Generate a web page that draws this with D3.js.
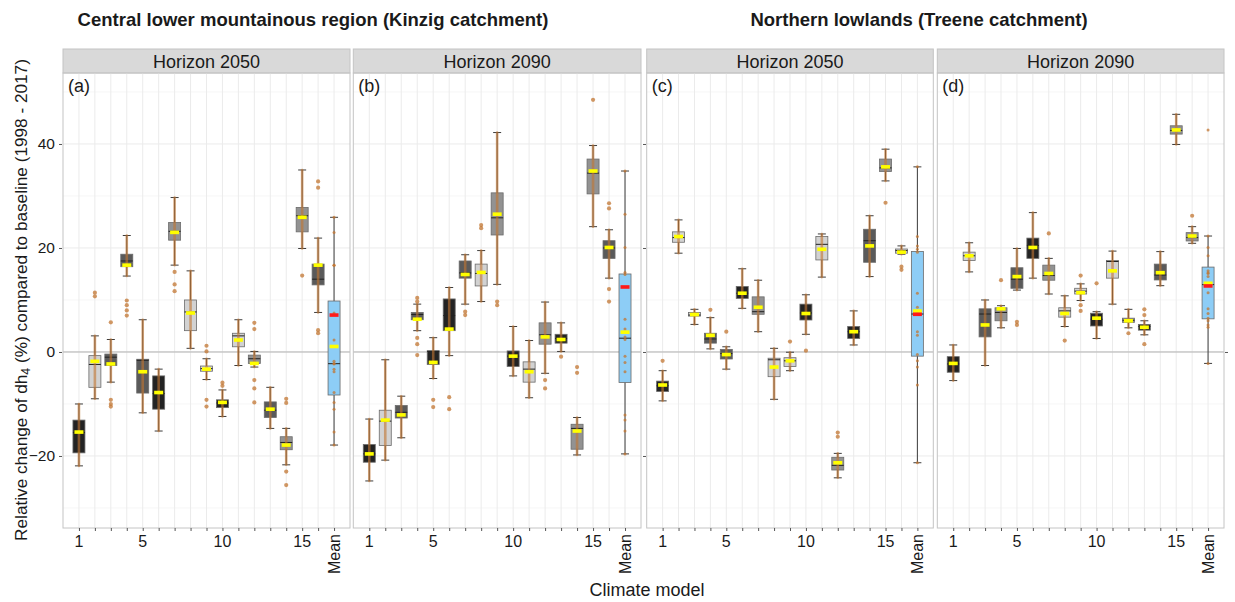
<!DOCTYPE html>
<html lang="en">
<head>
<meta charset="utf-8">
<title>Relative change of dh4 by climate model</title>
<script src="https://cdnjs.cloudflare.com/ajax/libs/d3/7.8.5/d3.min.js"></script>
<style>
  body { margin: 0; background: #fff; }
  svg text { font-family: "Liberation Sans", Arial, sans-serif; fill: #1a1a1a; }
</style>
</head>
<body>
<div id="chart"></div>
<script>
// categories
var models = ["1","2","3","4","5","6","7","8","9","10","11","12","13","14","15","16","Mean"];
var xLabels = ["1","5","10","15","Mean"];
var yTicks = [-20, 0, 20, 40];
var yMinor = [-30, -10, 10, 30, 50];

var regions = ["Central lower mountainous region (Kinzig catchment)", "Northern lowlands (Treene catchment)"];
var horizons = ["Horizon 2050", "Horizon 2090", "Horizon 2050", "Horizon 2090"];
var panelTags = ["(a)", "(b)", "(c)", "(d)"];

// per model box stats: [lower whisker, q1, median, q3, upper whisker, mean]
var statsA = [
  [-21.9, -19.4, -15.5, -13.1, -10.0, -15.4],
  [-9.0, -6.8, -2.4, -0.7, 3.1, -1.8],
  [-5.8, -2.6, -1.0, -0.4, 2.4, -2.3],
  [14.6, 16.4, 17.5, 18.8, 22.4, 16.7],
  [-11.7, -7.9, -1.6, -1.4, 6.2, -3.8],
  [-15.2, -11.0, -8.0, -4.6, -3.3, -7.8],
  [16.7, 21.5, 23.2, 24.9, 29.7, 23.0],
  [0.7, 4.1, 7.7, 10.0, 15.6, 7.5],
  [-5.3, -3.7, -3.2, -2.7, -1.3, -3.3],
  [-12.4, -10.7, -9.8, -9.2, -7.3, -9.7],
  [-2.6, 1.0, 3.1, 3.6, 6.2, 2.3],
  [-2.9, -2.2, -1.3, -0.6, 0.1, -2.2],
  [-14.7, -12.6, -11.2, -9.6, -6.8, -11.0],
  [-21.7, -18.8, -17.4, -16.3, -14.7, -17.9],
  [19.9, 23.1, 26.2, 27.8, 35.0, 25.9],
  [7.6, 12.9, 14.0, 16.9, 21.9, 16.7]
];
var outA = [[], [11.4, 10.7], [5.7, -9.2, -10.0, -10.5], [9.9, 9.0, 8.0, 7.0], [], [], [15.4, 13.0, 11.7], [],
  [1.2, 0.1, -9.2, -10.5], [-5.9, -6.5], [], [5.6, 4.4, -5.4, -7.0, -9.7], [], [-9.0, -9.8, -23.0, -25.6], [14.7], [32.8, 31.6, 4.2, 3.6]];
var fillA = "KLDDDKMLLKLMDMMD";
var redA = 7.1;

var statsB = [
  [-24.8, -21.2, -19.6, -17.8, -12.9, -19.6],
  [-20.8, -18.0, -13.3, -11.2, -1.5, -13.1],
  [-16.5, -12.7, -11.6, -10.3, -8.5, -12.1],
  [4.1, 6.2, 7.2, 7.6, 9.2, 6.3],
  [-5.1, -2.4, 0.1, 0.25, 2.75, -2.0],
  [-0.7, 4.1, 7.0, 10.2, 12.4, 4.4],
  [9.2, 14.2, 15.2, 17.5, 18.7, 14.9],
  [9.7, 12.7, 15.1, 16.9, 19.5, 15.3],
  [13.0, 22.5, 25.8, 30.6, 42.2, 26.5],
  [-4.6, -2.8, -0.8, 0.2, 4.9, -0.8],
  [-8.8, -5.8, -3.3, -1.9, 2.2, -3.8],
  [-4.1, 1.5, 3.3, 5.6, 9.6, 2.9],
  [0.1, 1.7, 2.6, 3.4, 5.6, 2.4],
  [-19.8, -18.7, -14.7, -13.9, -12.6, -15.2],
  [24.1, 30.4, 34.4, 37.1, 39.7, 34.8],
  [14.2, 18.0, 20.0, 21.4, 23.5, 20.1]
];
var outB = [[], [], [], [10.4, 9.7, 2.7, 1.5, -0.6], [-9.2, -10.6], [-8.7, -11.0], [7.75, 7.1], [24.4, 23.8],
  [9.7, 9.0], [], [], [-5.4, -7.0], [-0.9], [-2.9, -4.0], [48.5], [28.6, 27.6, 12.1, 9.7]];
var fillB = "KLDDKKDLMKLMKMMD";
var redB = 12.5;

var statsC = [
  [-9.4, -7.6, -6.5, -5.6, -3.6, -6.35],
  [19.0, 21.1, 22.0, 23.1, 25.4, 22.2],
  [5.3, 6.9, 7.1, 7.6, 8.2, 7.2],
  [0.6, 1.7, 2.5, 3.6, 6.6, 3.2],
  [-3.3, -1.35, -0.3, 0.5, 1.0, -0.5],
  [8.4, 10.3, 11.3, 12.6, 16.0, 11.3],
  [3.9, 7.25, 7.75, 10.6, 13.8, 8.6],
  [-9.1, -4.75, -1.5, -1.2, 0.7, -2.9],
  [-3.6, -2.8, -1.7, -1.1, -0.05, -1.7],
  [3.4, 6.15, 7.5, 9.2, 11.0, 7.4],
  [14.4, 17.7, 20.7, 22.2, 22.7, 19.75],
  [-24.2, -22.7, -21.8, -20.25, -19.5, -21.3],
  [1.35, 2.6, 3.9, 4.9, 7.9, 3.9],
  [14.5, 17.25, 21.4, 23.6, 26.2, 20.4],
  [32.9, 34.7, 35.4, 37.1, 39.0, 35.6],
  [18.8, 19.0, 19.5, 19.8, 20.4, 19.2]
];
var outC = [[-1.7], [], [], [8.1], [3.9], [], [], [], [2.0], [0.25], [], [-15.5, -16.3], [], [], [28.7], [16.4, 15.8]];
var fillC = "KLLDDKMLLKLMKDML";
var redC = 7.25;

var statsD = [
  [-5.5, -3.9, -2.3, -0.9, 1.35, -2.2],
  [15.4, 17.6, 18.5, 19.2, 21.0, 18.5],
  [-2.6, 2.9, 7.3, 8.3, 10.0, 5.2],
  [4.65, 6.0, 7.6, 8.5, 8.9, 8.3],
  [11.9, 12.25, 14.0, 16.2, 19.9, 14.5],
  [14.2, 18.0, 20.5, 21.9, 26.8, 20.1],
  [11.15, 13.8, 14.7, 16.7, 18.0, 15.1],
  [4.9, 6.7, 7.9, 8.5, 10.8, 7.4],
  [9.9, 11.15, 11.7, 12.25, 13.1, 11.4],
  [2.6, 5.0, 6.3, 7.45, 7.75, 6.5],
  [9.2, 14.2, 17.4, 17.6, 19.4, 15.6],
  [4.65, 5.7, 6.1, 6.5, 8.2, 6.0],
  [3.3, 4.2, 4.9, 5.3, 6.0, 4.75],
  [12.75, 13.85, 14.8, 16.9, 19.3, 15.25],
  [39.9, 41.9, 42.6, 43.5, 45.7, 42.7],
  [20.9, 21.35, 22.0, 22.95, 24.1, 22.3]
];
var outD = [[], [], [], [13.8], [5.8, 5.2], [], [22.8], [2.2], [9.0, 7.9, 14.7], [13.2], [], [3.6], [8.2, 7.1, 1.5], [], [], [26.2]];
var fillD = "KLDMDKMLLKLMKDMM";
var redD = 12.7;

var shade = { K: "#232323", D: "#5a5a5a", M: "#929292", L: "#d2d2d2" };
var meanFill = "#8dcdf6";
var dotColor = "#c27632";

var panels = [
  { x0: 63, x1: 350, stats: statsA, out: outA, fill: fillA, red: redA },
  { x0: 353.3, x1: 641, stats: statsB, out: outB, fill: fillB, red: redB },
  { x0: 646.7, x1: 933.3, stats: statsC, out: outC, fill: fillC, red: redC },
  { x0: 937.3, x1: 1224, stats: statsD, out: outD, fill: fillD, red: redD }
];

var width = 1235, height = 602;
var plotTop = 73, plotBottom = 528, stripTop = 49;

var svg = d3.select("#chart").append("svg")
  .attr("width", width)
  .attr("height", height);

var y = d3.scaleLinear().domain([-33.85, 53.65]).range([plotBottom, plotTop]);

// box stats for the Mean column: boxplot of the 16 model means
function meanBox(stats) {
  var m = stats.map(function (d) { return d[5]; }).sort(d3.ascending);
  var q1 = d3.quantile(m, 0.25), med = d3.quantile(m, 0.5), q3 = d3.quantile(m, 0.75);
  var iqr = q3 - q1;
  var inside = m.filter(function (v) { return v >= q1 - 1.5 * iqr && v <= q3 + 1.5 * iqr; });
  return { lo: d3.min(inside), q1: q1, med: med, q3: q3, hi: d3.max(inside), mean: d3.mean(m), pts: m };
}

panels.forEach(function (p, pi) {
  var x = d3.scalePoint().domain(models).range([p.x0, p.x1]).padding(1);
  var g = svg.append("g");

  // strip
  g.append("rect")
    .attr("x", p.x0).attr("y", stripTop)
    .attr("width", p.x1 - p.x0).attr("height", plotTop - stripTop)
    .attr("fill", "#d9d9d9").attr("stroke", "#c4c4c4").attr("stroke-width", 1);
  g.append("text")
    .attr("x", (p.x0 + p.x1) / 2).attr("y", (stripTop + plotTop) / 2 + 6.5)
    .attr("text-anchor", "middle").style("font-size", "18px")
    .text(horizons[pi]);

  // grid
  g.selectAll(".ymin").data(yMinor).enter().append("line")
    .attr("x1", p.x0).attr("x2", p.x1)
    .attr("y1", function (d) { return y(d); }).attr("y2", function (d) { return y(d); })
    .attr("stroke", "#f3f3f3").attr("stroke-width", 0.8);
  g.selectAll(".ymaj").data(yTicks).enter().append("line")
    .attr("x1", p.x0).attr("x2", p.x1)
    .attr("y1", function (d) { return y(d); }).attr("y2", function (d) { return y(d); })
    .attr("stroke", "#ebebeb").attr("stroke-width", 1);
  g.selectAll(".xmaj").data(models).enter().append("line")
    .attr("x1", function (d) { return x(d); }).attr("x2", function (d) { return x(d); })
    .attr("y1", plotTop).attr("y2", plotBottom)
    .attr("stroke", "#ebebeb").attr("stroke-width", 1);

  // zero line
  g.append("line")
    .attr("x1", p.x0).attr("x2", p.x1).attr("y1", y(0)).attr("y2", y(0))
    .attr("stroke", "#b3b3b3").attr("stroke-width", 1);

  var boxes = p.stats.map(function (s, i) {
    return { key: models[i], lo: s[0], q1: s[1], med: s[2], q3: s[3], hi: s[4], mean: s[5],
      fill: shade[p.fill[i]], out: p.out[i], pts: null };
  });
  var mb = meanBox(p.stats);
  boxes.push({ key: "Mean", lo: mb.lo, q1: mb.q1, med: mb.med, q3: mb.q3, hi: mb.hi, mean: mb.mean,
    fill: meanFill, out: [], pts: mb.pts });

  var bw = 12, cw = 8;
  var b = g.selectAll(".box").data(boxes).enter().append("g");

  // whiskers and caps
  b.append("line")
    .attr("x1", function (d) { return x(d.key); }).attr("x2", function (d) { return x(d.key); })
    .attr("y1", function (d) { return y(d.hi); }).attr("y2", function (d) { return y(d.lo); })
    .attr("stroke", "#3d3d3d").attr("stroke-width", 1);
  b.append("line")
    .attr("x1", function (d) { return x(d.key) - cw / 2; }).attr("x2", function (d) { return x(d.key) + cw / 2; })
    .attr("y1", function (d) { return y(d.hi); }).attr("y2", function (d) { return y(d.hi); })
    .attr("stroke", "#3d3d3d").attr("stroke-width", 1);
  b.append("line")
    .attr("x1", function (d) { return x(d.key) - cw / 2; }).attr("x2", function (d) { return x(d.key) + cw / 2; })
    .attr("y1", function (d) { return y(d.lo); }).attr("y2", function (d) { return y(d.lo); })
    .attr("stroke", "#3d3d3d").attr("stroke-width", 1);

  // box
  b.append("rect")
    .attr("x", function (d) { return x(d.key) - bw / 2; })
    .attr("y", function (d) { return y(d.q3); })
    .attr("width", bw)
    .attr("height", function (d) { return Math.max(1, y(d.q1) - y(d.q3)); })
    .attr("fill", function (d) { return d.fill; })
    .attr("stroke", "#6b6b6b").attr("stroke-width", 0.8);
  b.append("line")
    .attr("x1", function (d) { return x(d.key) - bw / 2; }).attr("x2", function (d) { return x(d.key) + bw / 2; })
    .attr("y1", function (d) { return y(d.med); }).attr("y2", function (d) { return y(d.med); })
    .attr("stroke", "#222").attr("stroke-width", 1);

  // yearly values: dense column inside whiskers, outliers as dots
  b.filter(function (d) { return !d.pts; }).append("line")
    .attr("x1", function (d) { return x(d.key); }).attr("x2", function (d) { return x(d.key); })
    .attr("y1", function (d) { return y(d.hi); }).attr("y2", function (d) { return y(d.lo); })
    .attr("stroke", dotColor).attr("stroke-width", 2.6).attr("stroke-linecap", "round")
    .attr("opacity", 0.6);
  b.each(function (d) {
    var vals = d.pts ? d.pts : d.out;
    d3.select(this).selectAll("circle").data(vals).enter().append("circle")
      .attr("cx", x(d.key)).attr("cy", function (v) { return y(v); })
      .attr("r", d.pts ? 1.5 : 2.1)
      .attr("fill", dotColor).attr("opacity", 0.75);
  });

  // mean markers
  b.append("rect")
    .attr("x", function (d) { return x(d.key) - 4.5; })
    .attr("y", function (d) { return y(d.mean) - 1.8; })
    .attr("width", 9).attr("height", 3.6)
    .attr("fill", "#ffff00");
  g.append("rect")
    .attr("x", x("Mean") - 4.5).attr("y", y(p.red) - 1.8)
    .attr("width", 9).attr("height", 3.6)
    .attr("fill", "#ff1a1a");

  // panel border
  g.append("rect")
    .attr("x", p.x0).attr("y", plotTop)
    .attr("width", p.x1 - p.x0).attr("height", plotBottom - plotTop)
    .attr("fill", "none").attr("stroke", "#c4c4c4").attr("stroke-width", 1);

  g.append("text")
    .attr("x", p.x0 + 5).attr("y", plotTop + 19)
    .style("font-size", "18px")
    .text(panelTags[pi]);

  // x axis
  var xa = g.append("g")
    .attr("transform", "translate(0," + plotBottom + ")")
    .call(d3.axisBottom(x).tickSize(3).tickFormat(""));
  xa.select(".domain").remove();
  xa.selectAll("line").attr("stroke", "#555");
  xLabels.forEach(function (lab) {
    if (lab === "Mean") {
      g.append("text")
        .attr("transform", "translate(" + (x(lab) + 5.5) + "," + (plotBottom + 6) + ") rotate(-90)")
        .attr("text-anchor", "end").style("font-size", "16px")
        .text(lab);
    } else {
      g.append("text")
        .attr("x", x(lab)).attr("y", plotBottom + 19)
        .attr("text-anchor", "middle").style("font-size", "16px")
        .text(lab);
    }
  });
});

// y axes
var yl = svg.append("g")
  .attr("transform", "translate(62,0)")
  .call(d3.axisLeft(y).tickValues(yTicks).tickSize(3).tickPadding(4));
yl.select(".domain").remove();
yl.selectAll("line").attr("stroke", "#555");
yl.selectAll("text").style("font-size", "15.5px").style("font-family", "Liberation Sans, Arial, sans-serif").attr("fill", "#1a1a1a");

var yr = svg.append("g")
  .attr("transform", "translate(646,0)")
  .call(d3.axisLeft(y).tickValues(yTicks).tickSize(3).tickFormat(""));
yr.select(".domain").remove();
yr.selectAll("line").attr("stroke", "#555");

var yr2 = svg.append("g")
  .attr("transform", "translate(1225,0)")
  .call(d3.axisRight(y).tickValues([0]).tickSize(3).tickFormat(""));
yr2.select(".domain").remove();
yr2.selectAll("line").attr("stroke", "#555");

// titles
svg.append("text")
  .attr("x", 313).attr("y", 26)
  .attr("text-anchor", "middle").style("font-size", "18.5px").style("font-weight", "bold")
  .attr("fill", "#000")
  .text(regions[0]);
svg.append("text")
  .attr("x", 919).attr("y", 26)
  .attr("text-anchor", "middle").style("font-size", "18.5px").style("font-weight", "bold")
  .attr("fill", "#000")
  .text(regions[1]);

var yt = svg.append("text")
  .attr("transform", "translate(27,300) rotate(-90)")
  .attr("text-anchor", "middle").style("font-size", "17.2px");
yt.append("tspan").text("Relative change of dh");
yt.append("tspan").attr("dy", 3).style("font-size", "12.5px").text("4");
yt.append("tspan").attr("dy", -3).text(" (%) compared to baseline (1998 - 2017)");

svg.append("text")
  .attr("x", 647).attr("y", 596)
  .attr("text-anchor", "middle").style("font-size", "18px")
  .text("Climate model");
</script>
</body>
</html>
